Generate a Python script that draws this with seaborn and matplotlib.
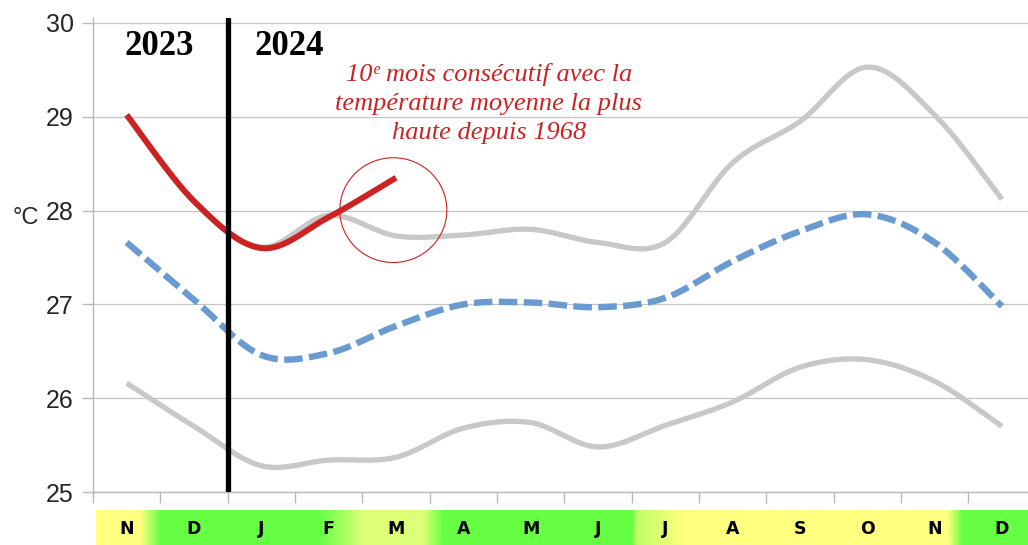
import numpy as np
import matplotlib
matplotlib.use("Agg")
import matplotlib.pyplot as plt
from matplotlib.patches import Ellipse
import seaborn as sns

# ── Data ──────────────────────────────────────────────────────────────────────
months = ["N", "D", "J", "F", "M", "A", "M", "J", "J", "A", "S", "O", "N", "D"]
temp_max = [29.02, 28.10, 27.61, 27.95, 27.73, 27.74, 27.80, 27.66, 27.66,
            28.51, 28.95, 29.53, 29.02, 28.12]
temp_moy = [27.66, 27.05, 26.46, 26.48, 26.77, 27.00, 27.02, 26.97, 27.07,
            27.46, 27.78, 27.96, 27.66, 26.98]
temp_min = [26.16, 25.70, 25.28, 25.34, 25.37, 25.68, 25.74, 25.48, 25.71,
            25.96, 26.33, 26.41, 26.18, 25.70]
temp_2324 = [29.02, 28.10, 27.60, 27.93, 28.35]
years = ["2023", "2024"]
note = "10ᵉ mois consécutif avec la\ntempérature moyenne la plus\nhaute depuis 1968"

RED = "#cc2222"
GREY = "#c8c8c8"
BLUE = "#6a9bd0"
YELLOW = np.array([255, 255, 128]) / 255
GREEN = np.array([102, 255, 68]) / 255
PALE = np.array([221, 255, 119]) / 255

sns.set_theme(style="white")
plt.rcParams["font.family"] = ["Liberation Sans", "DejaVu Sans"]


def smooth(ys, n=40):
    # Excel-like smoothed line (uniform Catmull-Rom through the points)
    p = np.asarray(ys, dtype=float)
    x = np.arange(len(p), dtype=float)
    pp = np.concatenate([[p[0]], p, [p[-1]]])
    xp = np.concatenate([[x[0]], x, [x[-1]]])
    t = np.linspace(0, 1, n)[:, None]
    sx, sy = [], []
    for i in range(len(p) - 1):
        for arr, out in ((xp, sx), (pp, sy)):
            p0, p1, p2, p3 = arr[i:i + 4]
            seg = 0.5 * ((2 * p1) + (-p0 + p2) * t + (2 * p0 - 5 * p1 + 4 * p2 - p3) * t ** 2
                         + (-p0 + 3 * p1 - 3 * p2 + p3) * t ** 3)
            out.extend(seg.ravel()[:-1] if i < len(p) - 2 else seg.ravel())
    return np.array(sx), np.array(sy)


W, H = 1028, 545
fig = plt.figure(figsize=(W / 100, H / 100), dpi=100)
ax = fig.add_axes([93 / W, 1 - 492 / H, (W - 93) / W, (492 - 18) / H])

x_right = 13 + (W - 1002) / 67.33
ax.set_xlim(-0.5, x_right)
ax.set_ylim(25, 30.053)

for ys, col, lw, ls in [(temp_min, GREY, 3.8, "-"), (temp_max, GREY, 3.8, "-"),
                        (temp_moy, BLUE, 4.6, (0, (2.9, 1.0)))]:
    sx, sy = smooth(ys)
    sns.lineplot(x=sx, y=sy, ax=ax, color=col, lw=lw, linestyle=ls, sort=False,
                 estimator=None, solid_capstyle="butt", dash_capstyle="butt")

sx, sy = smooth(temp_2324)
sns.lineplot(x=sx, y=sy, ax=ax, color=RED, lw=4.3, sort=False, estimator=None,
             solid_capstyle="butt", zorder=5)

ax.axvline(1.5, ymin=0, ymax=1, color="black", lw=3.8, zorder=6)

ax.add_patch(Ellipse((3.96, 28.005), 1.59, 1.117, fill=False, edgecolor=RED, lw=0.8, zorder=7))

for xi, lab in zip([0.49, 2.42], years):
    ax.text(xi, 29.75, lab, ha="center", va="center", fontsize=25, fontweight="bold",
            family=["Liberation Serif", "DejaVu Serif"], color="black")

ax.text(5.38, 29.14, note, ha="center", va="center", fontsize=19, style="italic",
        family=["Liberation Serif", "DejaVu Serif"], color=RED, linespacing=1.42)

# axes styling
ax.set_yticks(range(25, 31))
ax.set_yticklabels([str(v) for v in range(25, 31)], fontsize=18)
ax.set_xticks(np.arange(-0.5, 13, 1.0))
ax.set_xticklabels([])
ax.grid(axis="y", color="#c4c4c4", lw=0.9)
ax.grid(axis="x", visible=False)
for side in ["top", "right"]:
    ax.spines[side].set_visible(False)
for side in ["left", "bottom"]:
    ax.spines[side].set_color("#b8b8b8")
    ax.spines[side].set_linewidth(1.0)
ax.tick_params(axis="both", which="major", direction="out", length=8, width=1.0,
               color="#b8b8b8", left=True, bottom=True)
ax.tick_params(axis="y", pad=6)
ax.set_xlabel("")
ax.set_ylabel("")

fig.text(26 / W, 1 - 218 / H, "°C", ha="center", va="center", fontsize=17)

# month strip with colour gradient
sax = fig.add_axes([96 / W, 0, (W - 96) / W, 35 / H])
x0 = -0.5 + 3 / 67.33
sax.set_xlim(x0, x_right)
sax.set_ylim(0, 1)
stops = [(x0, YELLOW), (0.2, YELLOW), (0.5, GREEN), (2.87, GREEN), (3.5, PALE),
         (4.4, PALE), (4.7, GREEN), (7.52, GREEN), (7.56, np.array([190, 255, 100]) / 255),
         (8.3, YELLOW), (12.2, YELLOW), (12.42, GREEN), (x_right, GREEN)]
xs = np.linspace(x0, x_right, 1200)
sp = np.array([s[0] for s in stops])
img = np.stack([np.interp(xs, sp, [s[1][k] for s in stops]) for k in range(3)], axis=-1)
sax.imshow(img[None, :, :], extent=[x0, x_right, 0, 1], aspect="auto", interpolation="bilinear")
for i, m in enumerate(months):
    sax.text(i, 0.45, m, ha="center", va="center", fontsize=12.5, fontweight="bold",
             family=["DejaVu Sans"], color="black")
sax.axis("off")

fig.savefig("out.png", dpi=100)
